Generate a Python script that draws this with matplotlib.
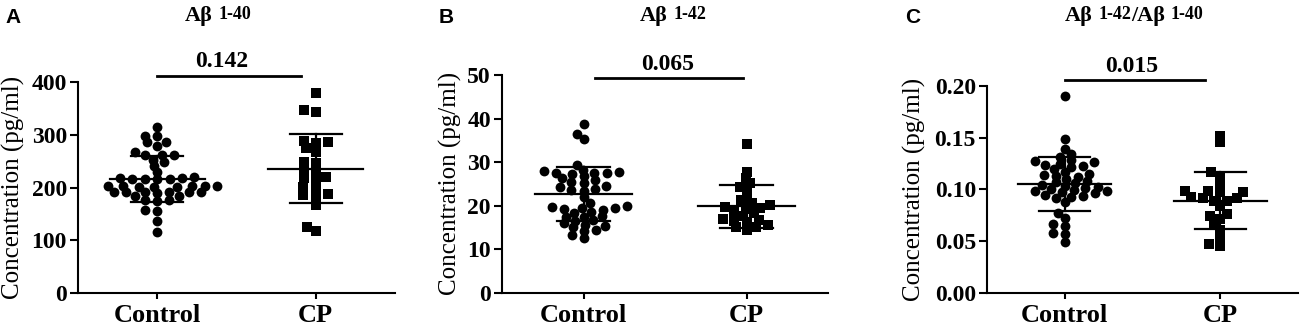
import numpy as np
import matplotlib
matplotlib.use('Agg')
import matplotlib.pyplot as plt
import matplotlib.transforms as mtransforms

plt.rcParams['font.family'] = ['Liberation Serif', 'DejaVu Serif']
plt.rcParams['font.weight'] = 'bold'

groups = ['Control', 'CP']

# Abeta 1-40 (pg/ml)
a40_control = [315, 298, 298, 287, 286, 279, 268, 262, 262, 261, 253, 248, 241, 230,
               219, 218, 218, 217, 217, 216, 216,
               203, 203, 202, 202, 202, 201, 201, 201,
               192, 192, 192, 191, 191, 191, 190,
               184, 183, 177, 176, 175, 158, 156, 137, 115]
a40_cp = [379, 346, 344, 288, 286, 285, 275, 268, 249, 246, 234, 232, 220, 218, 214,
          201, 200, 187, 186, 185, 167, 126, 118]

# Abeta 1-42 (pg/ml)
a42_control = [38.7, 36.4, 35.2, 29.4, 28.2, 27.9, 27.7, 27.6, 27.5, 27.5, 27.3, 26.8,
               26.4, 25.8, 25.5, 25.3, 24.5, 24.2, 23.8, 23.5, 23.4, 22.0, 20.5, 19.8,
               19.6, 19.5, 19.4, 19.2, 19.0, 18.6, 18.4, 17.6, 17.5, 17.4, 16.6, 16.5,
               15.9, 15.6, 15.3, 15.0, 14.4, 14.2, 13.2, 12.6]
a42_cp = [34.2, 27.8, 26.4, 25.1, 24.2, 23.0, 21.2, 20.5, 20.1, 19.6, 19.4, 19.3, 18.6,
          18.2, 17.6, 17.0, 16.6, 16.5, 16.3, 15.5, 15.2, 15.1, 14.3]

# ratio 1-42 / 1-40
ratio_control = [0.190, 0.149, 0.139, 0.134, 0.131, 0.128, 0.127, 0.126, 0.125, 0.124,
                 0.123, 0.122, 0.120, 0.117, 0.115, 0.114, 0.113, 0.112, 0.110, 0.108,
                 0.107, 0.106, 0.104, 0.103, 0.102, 0.101, 0.100, 0.099, 0.098, 0.098,
                 0.097, 0.096, 0.095, 0.094, 0.093, 0.092, 0.088, 0.077, 0.072, 0.066,
                 0.065, 0.058, 0.057, 0.049]
ratio_cp = [0.152, 0.146, 0.117, 0.113, 0.104, 0.098, 0.098, 0.097, 0.097, 0.093, 0.092,
            0.092, 0.089, 0.089, 0.084, 0.076, 0.074, 0.071, 0.066, 0.061, 0.052, 0.047,
            0.045]

# mean and SD lines as drawn in the figure
means = [[216, 236], [22.6, 19.8], [0.105, 0.089]]
sds = [[43, 66], [6.2, 4.9], [0.026, 0.0275]]

p_values = ['0.142', '0.065', '0.015']
panel_letters = ['A', 'B', 'C']
y_max = [400, 50, 0.20]
y_step = [100, 10, 0.05]
y_fmt = ['{:.0f}', '{:.0f}', '{:.2f}']

W, H = 1300, 325
fig = plt.figure(figsize=(13, 3.25), dpi=100)

# axes boxes in pixels: left, bottom(from top), width, height
boxes = [(78, 293, 317, 211), (502, 292.7, 326, 217.7), (987, 292.7, 311, 206.7)]
data = [(a40_control, a40_cp), (a42_control, a42_cp), (ratio_control, ratio_cp)]
bar_x = [(0.0, 0.905), (0.07, 0.98), (0.0, 0.90)]
bar_y = [1.028, 0.985, 1.03]
ptext = [(0.454, 1.071), (0.509, 1.023), (0.466, 1.069)]
ylab_x = [-0.166, -0.124, -0.195]
letter_x = [5, 439, 905]
title_x = [185, 640, 1065]
title_parts = [[('Aβ', 16, None), ('1-40', 13, 'sub')],
               [('Aβ', 16, None), ('1-42', 13, 'sub')],
               [('Aβ', 16, None), ('1-42', 13, 'sub'), ('/Aβ', 16, 'main'), ('1-40', 13, 'sub')]]


def swarm_offsets(ax, yvals, step_px, row_px):
    # beeswarm with an elliptic footprint: points in one row sit step_px apart,
    # points more than row_px apart vertically may share a column (like Prism)
    pix = ax.transData.transform(np.column_stack([np.zeros(len(yvals)), yvals]))[:, 1]
    pix = pix * step_px / row_px
    order = np.argsort(pix)
    placed = []
    xs = np.zeros(len(yvals))
    d = step_px
    for i in order:
        y = pix[i]
        cands = [0.0]
        for px, py in placed:
            dy = abs(py - y)
            if dy < d:
                dx = np.sqrt(d ** 2 - dy ** 2)
                cands += [px - dx, px + dx]
        cands.sort(key=lambda c: (round(abs(c), 3), c))
        for c in cands:
            if all((c - px) ** 2 + (y - py) ** 2 >= d ** 2 - 1e-6 for px, py in placed):
                xs[i] = c
                placed.append((c, y))
                break
    x0 = ax.transData.transform((0, 0))[0]
    x1 = ax.transData.transform((1, 0))[0]
    return xs / (x1 - x0)


for k in range(3):
    l, b, w, h = boxes[k]
    ax = fig.add_axes([l / W, (H - b) / H, w / W, h / H])
    ax.set_xlim(-0.5, 1.5)
    ax.set_ylim(0, y_max[k])
    ticks = np.arange(0, y_max[k] + y_step[k] / 2, y_step[k])
    ax.set_yticks(ticks)
    ax.set_yticklabels([y_fmt[k].format(t) for t in ticks])
    ax.set_xticks([0, 1])
    ax.set_xticklabels(groups, fontsize=19)
    for s in ['top', 'right']:
        ax.spines[s].set_visible(False)
    for s in ['left', 'bottom']:
        ax.spines[s].set_linewidth(1.5)
    ax.tick_params(axis='y', length=6, width=1.5, labelsize=17, pad=2)
    ax.tick_params(axis='x', length=4, width=1.5, pad=4)

    for i, (vals, marker, size) in enumerate(zip(data[k], ['o', 's'], [50, 42])):
        offs = swarm_offsets(ax, vals, 12.4, 6.0)
        ax.scatter(i + offs, vals, marker=marker, s=size, color='black',
                   linewidths=0, zorder=3, clip_on=False)
        m, sd = means[k][i], sds[k][i]
        ax.plot([i - 0.3, i + 0.3], [m, m], color='black', lw=1.6, zorder=4)
        ax.plot([i - 0.165, i + 0.165], [m + sd, m + sd], color='black', lw=1.6, zorder=4)
        ax.plot([i - 0.165, i + 0.165], [m - sd, m - sd], color='black', lw=1.6, zorder=4)
        ax.plot([i, i], [m - sd, m + sd], color='black', lw=1.6, zorder=4)

    ax.set_ylabel('Concentration (pg/ml)', fontsize=18)
    ax.yaxis.set_label_coords(ylab_x[k], 0.5)

    # significance bar
    trans = mtransforms.blended_transform_factory(ax.transData, ax.transAxes)
    ax.plot(bar_x[k], [bar_y[k], bar_y[k]], color='black', lw=2, transform=trans,
            clip_on=False)
    ax.text(ptext[k][0], ptext[k][1], p_values[k], transform=ax.transAxes,
            ha='center', va='baseline', fontsize=17)

    # panel letter
    fig.text(letter_x[k] / W, (H - 23) / H, panel_letters[k], family='Liberation Sans',
             weight='bold', fontsize=15, ha='left', va='baseline')

    # title pieces with subscripts
    prev = ax.annotate(title_parts[k][0][0], xy=(title_x[k] / W, (H - 21) / H),
                       xycoords='figure fraction', ha='left', va='baseline',
                       fontsize=title_parts[k][0][1], annotation_clip=False)
    for txt, fs, kind in title_parts[k][1:]:
        off = (4, 2) if kind == 'sub' else (0, -2)
        prev = ax.annotate(txt, xy=(1, 0), xycoords=prev, xytext=off,
                           textcoords='offset points', ha='left', va='bottom',
                           fontsize=fs, annotation_clip=False)

fig.savefig('out.png', dpi=100)
